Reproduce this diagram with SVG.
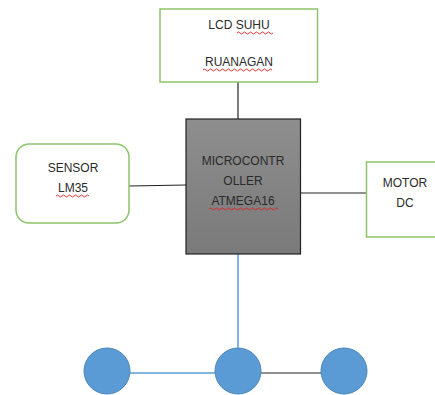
<svg xmlns="http://www.w3.org/2000/svg" width="435" height="395" viewBox="0 0 435 395">
<style>
.box{fill:#ffffff;stroke:#8cc46a;stroke-width:1.5}
.t{font-family:"Liberation Sans",Arial,sans-serif;font-size:12px;fill:#2a2a2a;text-anchor:middle}
.ln{stroke:#222222;stroke-width:1.2;fill:none}
.bl{stroke:#5b9bd5;stroke-width:1.5;fill:none}
.dot{fill:#5b9bd5;stroke:#4a84b8;stroke-width:1}
.sq{fill:none;stroke:#e02020;stroke-width:0.9}
</style>
<defs>
<linearGradient id="g" x1="0" y1="0" x2="0" y2="1">
<stop offset="0" stop-color="#8e8e8e"/>
<stop offset="1" stop-color="#7a7a7a"/>
</linearGradient>
</defs>
<g id="connectors">
<line class="ln" x1="238" y1="82" x2="238" y2="119"/>
<line class="ln" x1="129" y1="186" x2="186" y2="185"/>
<line class="ln" x1="301" y1="193" x2="367" y2="193"/>
<line class="bl" x1="238" y1="254" x2="238" y2="348"/>
<line class="bl" x1="130" y1="373" x2="215" y2="373"/>
<line class="ln" x1="261" y1="373" x2="321" y2="373"/>
</g>
<g id="lcd">
<rect class="box" x="160" y="9" width="157.5" height="73"/>
<text class="t" x="239" y="29">LCD SUHU</text>
<text class="t" x="239" y="66">RUANAGAN</text>
<path class="sq" d="M237 33 q1.5 -2 3 0 t3 0 t3 0 t3 0 t3 0 t3 0 t3 0 t3 0 t3 0 t3 0 t3 0 t3 0"/>
<path class="sq" d="M203 70 q1.5 -2 3 0 t3 0 t3 0 t3 0 t3 0 t3 0 t3 0 t3 0 t3 0 t3 0 t3 0 t3 0 t3 0 t3 0 t3 0 t3 0 t3 0 t3 0 t3 0 t3 0 t3 0 t3 0 t3 0"/>
</g>
<g id="sensor">
<rect class="box" x="16" y="144" width="113" height="79" rx="13"/>
<text class="t" x="73" y="172">SENSOR</text>
<text class="t" x="73" y="192">LM35</text>
<path class="sq" d="M56 196 q1.5 -2 3 0 t3 0 t3 0 t3 0 t3 0 t3 0 t3 0 t3 0 t3 0 t3 0 t3 0"/>
</g>
<g id="micro">
<rect x="186" y="119" width="114.5" height="135" fill="url(#g)" stroke="#222222" stroke-width="1.2"/>
<text class="t" x="243" y="165">MICROCONTR</text>
<text class="t" x="243" y="185">OLLER</text>
<text class="t" x="243" y="205">ATMEGA16</text>
<path class="sq" d="M209 209 q1.5 -2 3 0 t3 0 t3 0 t3 0 t3 0 t3 0 t3 0 t3 0 t3 0 t3 0 t3 0 t3 0 t3 0 t3 0 t3 0 t3 0 t3 0 t3 0 t3 0 t3 0 t3 0 t3 0 t3 0"/>
</g>
<g id="motor">
<rect class="box" x="366.5" y="162" width="80" height="75"/>
<text class="t" x="405" y="187">MOTOR</text>
<text class="t" x="405" y="207">DC</text>
</g>
<g id="dot-left">
<circle class="dot" cx="107" cy="371" r="23"/>
</g>
<g id="dot-middle">
<circle class="dot" cx="238" cy="371" r="23"/>
</g>
<g id="dot-right">
<circle class="dot" cx="344" cy="371" r="23"/>
</g>
</svg>
